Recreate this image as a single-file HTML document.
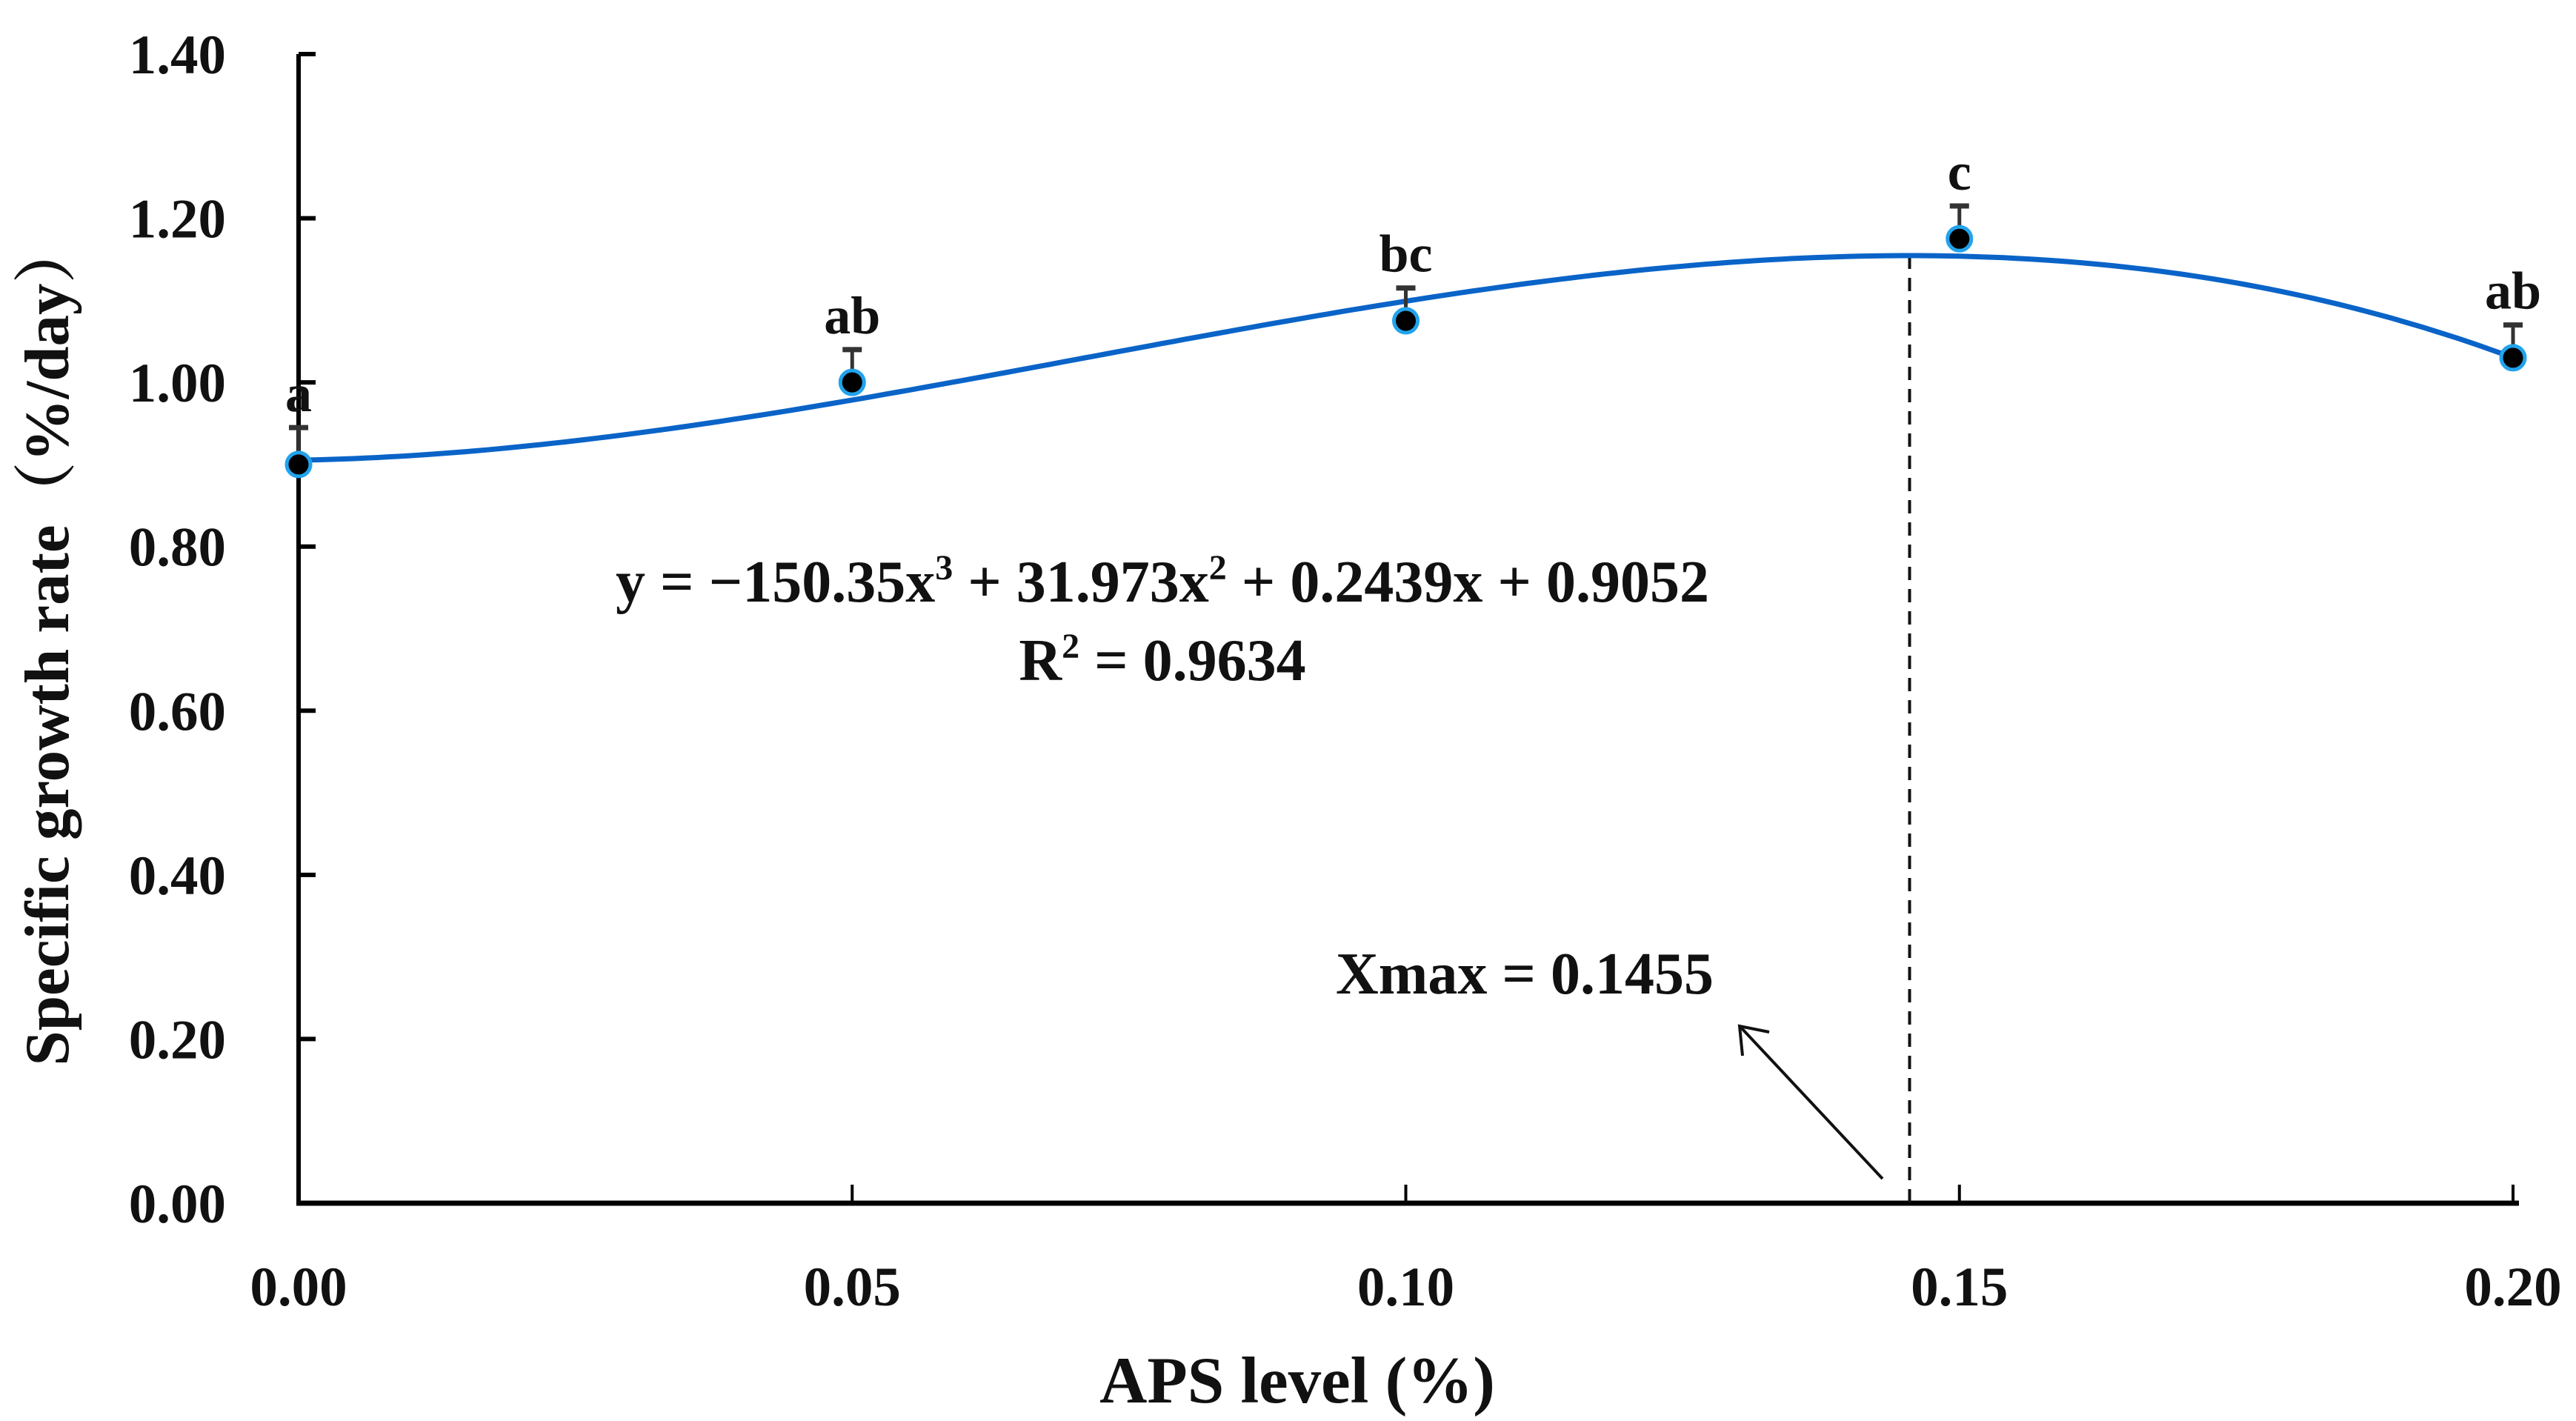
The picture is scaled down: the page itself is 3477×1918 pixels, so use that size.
<!DOCTYPE html>
<html><head><meta charset="utf-8"><style>
html,body{margin:0;padding:0;background:#fff;}
svg text{font-family:"Liberation Serif",serif;font-weight:bold;fill:#111;}
</style></head><body>
<svg id="chart" width="3477" height="1913" viewBox="0 0 3477 1913" xmlns="http://www.w3.org/2000/svg">
<g id="axes"></g>
<g id="marks"></g>
<text x="1569" y="812" font-size="80" text-anchor="middle">y = −150.35x<tspan font-size="48" dy="-30">3</tspan><tspan dy="30"> + 31.973x</tspan><tspan font-size="48" dy="-30">2</tspan><tspan dy="30"> + 0.2439x + 0.9052</tspan></text>
<text x="1569" y="918" font-size="80" text-anchor="middle">R<tspan font-size="48" dy="-30">2</tspan><tspan dy="30"> = 0.9634</tspan></text>
<text x="2058" y="1341" font-size="80" text-anchor="middle">Xmax = 0.1455</text>
<g stroke="#111" stroke-width="4" fill="none">
<line x1="2541" y1="1591" x2="2350" y2="1387"/>
<polyline points="2352,1425 2348,1385 2388,1393"/>
</g>
<text x="1751" y="1893" font-size="89" text-anchor="middle">APS level (%)</text>
<text transform="translate(92,868) rotate(-90)" font-size="85" text-anchor="middle" style='font-family:"Liberation Serif","Noto Serif CJK SC",serif'>Specific growth rate（%/day）</text>
</svg>
<script>
const xCats = [0.00, 0.05, 0.10, 0.15, 0.20];
const xTickLabels = ["0.00","0.05","0.10","0.15","0.20"];
const yTicks = [0, 0.2, 0.4, 0.6, 0.8, 1.0, 1.2, 1.4];
const yTickLabels = ["0.00","0.20","0.40","0.60","0.80","1.00","1.20","1.40"];
const means = [0.90, 1.00, 1.075, 1.175, 1.03];
const errs = [0.045, 0.04, 0.04, 0.04, 0.04];
const letters = ["a","ab","bc","c","ab"];
const coefs = [-150.35, 31.973, 0.2439, 0.9052];
const xMaxVal = [0.1455];

const NS = "http://www.w3.org/2000/svg";
const X0 = 403, X1 = 3392, Y0 = 1624, Y1 = 73;
function sx(v){ return X0 + (v - 0) / 0.2 * (X1 - X0); }
function sy(v){ return Y0 - v / 1.4 * (Y0 - Y1); }
function mk(tag, attrs, parent){ const e = document.createElementNS(NS, tag); for (const k in attrs) e.setAttribute(k, attrs[k]); parent.appendChild(e); return e; }
function fit(x){ return coefs[0]*x*x*x + coefs[1]*x*x + coefs[2]*x + coefs[3]; }

const axes = document.getElementById("axes");
const marks = document.getElementById("marks");

let l = mk("line", {x1:X0, y1:Y1, x2:X0, y2:Y0+3, stroke:"#000", "stroke-width":6}, axes);


l = mk("line", {x1:X0-3, y1:Y0, x2:X1+8, y2:Y0, stroke:"#000", "stroke-width":7}, axes);



yTicks.forEach((v, i) => {
  const t = mk("line", {x1:X0, y1:sy(v), x2:X0+23, y2:sy(v), stroke:"#000", "stroke-width":6}, axes);
  
  
  const tx = mk("text", {x:305, y:sy(v)+26, "font-size":75, "text-anchor":"end"}, axes);
  tx.textContent = yTickLabels[i];
  
  
});
xCats.forEach((v, i) => {
  const t = mk("line", {x1:sx(v), y1:Y0, x2:sx(v), y2:Y0-25, stroke:"#000", "stroke-width":4}, axes);
  
  
  const tx = mk("text", {x:sx(v), y:1762, "font-size":75, "text-anchor":"middle"}, axes);
  tx.textContent = xTickLabels[i];
  
  
});

const dl = mk("line", {x1:sx(xMaxVal[0]), y1:sy(fit(xMaxVal[0])), x2:sx(xMaxVal[0]), y2:Y0, stroke:"#111", "stroke-width":4, "stroke-dasharray":"18 12"}, marks);



let d = "";
for (let k = 0; k <= 200; k++) { const x = 0.2 * k / 200; d += (k ? "L" : "M") + sx(x).toFixed(1) + "," + sy(fit(x)).toFixed(1); }
const curve = mk("path", {d:d, fill:"none", stroke:"#0a64c8", "stroke-width":7}, marks);



xCats.forEach((v, i) => {
  const cx = sx(v), cy = sy(means[i]), top = sy(means[i] + errs[i]);
  const eb = mk("line", {x1:cx, y1:cy, x2:cx, y2:top, stroke:"#333", "stroke-width":5}, marks);
  
  
  const cap = mk("line", {x1:cx-13, y1:top, x2:cx+13, y2:top, stroke:"#333", "stroke-width":7}, marks);
  
  
  const pt = mk("circle", {cx:cx, cy:cy, r:16, fill:"#000", stroke:"#22a3ec", "stroke-width":5}, marks);
  
  
  const lt = mk("text", {x:cx, y:top-22, "font-size":72, "text-anchor":"middle"}, marks);
  lt.textContent = letters[i];
  
  
});
</script>
</body></html>
